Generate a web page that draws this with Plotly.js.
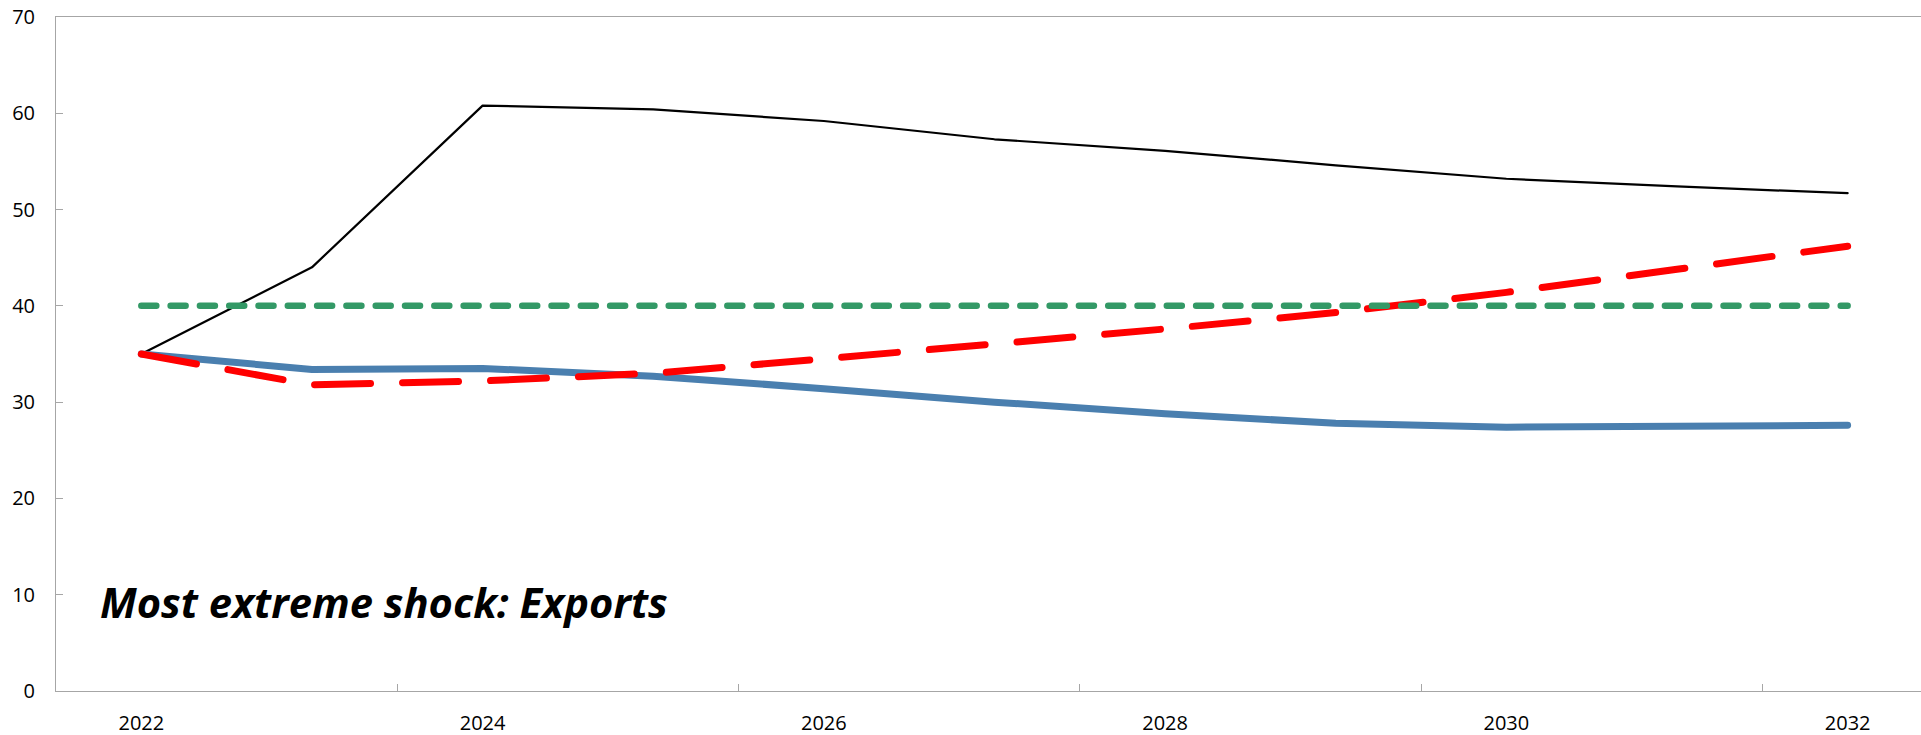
<!DOCTYPE html>
<html>
<head>
<meta charset="utf-8">
<script src="https://cdn.plot.ly/plotly-3.0.1.min.js"></script>
<style>
  html, body { margin: 0; padding: 0; background: #ffffff; }
  #chart { width: 1921px; height: 735px; }
  .scatterlayer .js-line { stroke-linecap: round; stroke-linejoin: round; }
</style>
</head>
<body>
<div id="chart"></div>
<script>
// ---- data ----
const years = ["2022", "2023", "2024", "2025", "2026", "2027", "2028", "2029", "2030", "2031", "2032"];
const extremeShock = [35.0, 44.0, 60.8, 60.4, 59.2, 57.3, 56.1, 54.6, 53.2, 52.4, 51.7];
const baseline     = [35.0, 33.4, 33.5, 32.7, 31.4, 30.0, 28.8, 27.8, 27.4, 27.5, 27.6];
const historical   = [35.0, 31.8, 32.2, 33.0, 34.5, 36.0, 37.6, 39.3, 41.4, 43.8, 46.2];
const threshold    = [40, 40, 40, 40, 40, 40, 40, 40, 40, 40, 40];
const yTicks = [0, 10, 20, 30, 40, 50, 60, 70];
const annotationText = "Most extreme shock: Exports";

const traces = [
  { x: years, y: extremeShock, type: "scatter", mode: "lines", name: "Most extreme shock",
    line: { color: "#000000", width: 2.2 } },
  { x: years, y: baseline, type: "scatter", mode: "lines", name: "Baseline",
    line: { color: "#4A7FAF", width: 7 } },
  { x: years, y: historical, type: "scatter", mode: "lines", name: "Historical scenario",
    line: { color: "#FF0000", width: 7, dash: "56px,32px" } },
  { x: years, y: threshold, type: "scatter", mode: "lines", name: "Threshold",
    line: { color: "#339966", width: 6.5, dash: "15px,14.3px" } }
];

const axisColor = "#A6A6A6";
const tickFont = { family: "Open Sans, Noto Sans, sans-serif", size: 20, color: "#000000" };

const layout = {
  width: 1921,
  height: 735,
  paper_bgcolor: "#ffffff",
  plot_bgcolor: "#ffffff",
  showlegend: false,
  margin: { l: 56, r: 0, t: 17, b: 44, pad: 0 },
  xaxis: {
    type: "category",
    range: [-0.5, 10.43],
    tickmode: "linear",
    tick0: 0,
    dtick: 2,
    tickson: "boundaries",
    ticks: "inside",
    ticklen: 7,
    tickwidth: 1,
    tickcolor: axisColor,
    showline: true,
    linecolor: axisColor,
    linewidth: 1,
    mirror: true,
    showgrid: false,
    zeroline: false,
    tickfont: tickFont,
    ticklabelstandoff: 14
  },
  yaxis: {
    range: [0, 70],
    tickmode: "array",
    tickvals: yTicks,
    ticks: "inside",
    ticklen: 7,
    tickwidth: 1,
    tickcolor: axisColor,
    showline: true,
    linecolor: axisColor,
    linewidth: 1,
    mirror: true,
    showgrid: false,
    zeroline: false,
    tickfont: tickFont,
    ticklabelstandoff: 16
  },
  annotations: [{
    text: annotationText,
    xref: "paper", yref: "y",
    x: 0.0225, y: 9.3,
    xanchor: "left", yanchor: "middle",
    showarrow: false,
    font: { family: "Open Sans, Noto Sans, sans-serif", size: 41.7, color: "#000000", weight: "bold", style: "italic" }
  }]
};

Plotly.newPlot("chart", traces, layout, { displayModeBar: false, staticPlot: true });
</script>
</body>
</html>
